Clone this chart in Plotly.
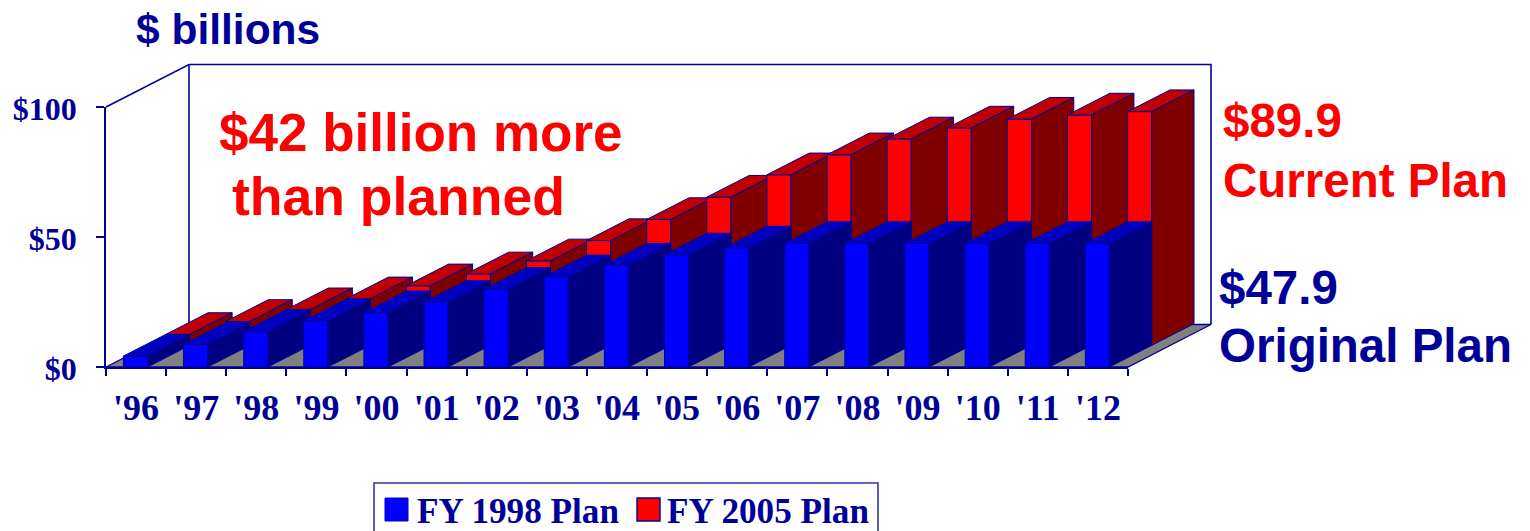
import plotly.graph_objects as go

# ---- data ($ billions) ----
years = ["'96","'97","'98","'99","'00","'01","'02","'03","'04","'05","'06","'07","'08","'09","'10","'11","'12"]
fy1998_plan = [4.2,8.7,13.6,17.7,20.9,24.9,29.9,34.7,39.2,43.1,45.8,47.5,47.5,47.5,47.5,47.5,47.5]
fy2005_plan = [4.2,9.2,13.7,17.9,22.9,27.5,32.5,40.3,48.4,57.0,65.6,73.3,79.4,83.6,87.0,88.6,89.9]
y_ticks = [0,50,100]
y_tick_text = ["$0","$50","$100"]

# ---- layout constants (pixels) ----
W,H = 1530,531
X0,X1 = 106,1128      # front x axis
Y0,Y100 = 367,107     # front y axis
DEPTH_PX = (83,-42.5)
NAVY = "#000099"
SERIF = "Liberation Serif"
SANS = "Liberation Sans"

px_x = (X1-X0)/len(years)
px_y = (Y0-Y100)/100
DX = DEPTH_PX[0]/px_x
DY = -DEPTH_PX[1]/px_y

def proj(cat,z,val):
    return cat+z*DX, val+z*DY

def face(pts,fill,edge="#000080",w=1):
    xs,ys = zip(*[proj(*p) for p in pts+[pts[0]]])
    return go.Scatter(x=list(xs),y=list(ys),mode="lines",fill="toself",fillcolor=fill,
                      line=dict(color=edge,width=w),hoverinfo="skip",showlegend=False)

def wire(pts,w=1.6):
    xs,ys = zip(*[proj(*p) for p in pts])
    return go.Scatter(x=list(xs),y=list(ys),mode="lines",line=dict(color=NAVY,width=w),
                      hoverinfo="skip",showlegend=False)

def box(i,val,z0,z1,front,top,side,edge):
    a,b = i+0.29,i+0.69
    return [
        face([(a,z0,0),(b,z0,0),(b,z0,val),(a,z0,val)],front,edge),
        face([(a,z0,val),(b,z0,val),(b,z1,val),(a,z1,val)],top,edge),
        face([(b,z0,0),(b,z1,0),(b,z1,val),(b,z0,val)],side,edge),
    ]

n = len(years)
fig = go.Figure()
# floor and walls
fig.add_trace(face([(0,0,0),(n,0,0),(n,1,0),(0,1,0)],"#808080",NAVY,1.4))
fig.add_trace(wire([(0,0,100),(0,1,100),(n,1,100),(n,1,0)]))
fig.add_trace(wire([(0,1,100),(0,1,0)]))
# rear series then front series, left to right
for i,v in enumerate(fy2005_plan):
    fig.add_traces(box(i,v,0.51,1.02,"#FF0000","#C00000","#800000",NAVY))
for i,v in enumerate(fy1998_plan):
    fig.add_traces(box(i,v,0.0,0.51,"#0000FF","#0000C0","#000080","#0000A0"))

# front axes: real axes on a second subplot laid over the first
fig.add_trace(go.Scatter(x=[0],y=[0],xaxis="x2",yaxis="y2",mode="markers",
                         marker=dict(opacity=0,size=1),hoverinfo="skip",showlegend=False))

fig.update_layout(
    width=W,height=H,margin=dict(l=0,r=0,t=0,b=0,pad=0),autosize=False,
    paper_bgcolor="white",plot_bgcolor="rgba(0,0,0,0)",showlegend=False,
    xaxis=dict(range=[-X0/px_x,(W-X0)/px_x],domain=[0,1],visible=False,fixedrange=True),
    yaxis=dict(range=[-(H-Y0)/px_y,Y0/px_y],domain=[0,1],visible=False,fixedrange=True),
    xaxis2=dict(range=[0,n],domain=[X0/W,X1/W],anchor="y2",showgrid=False,zeroline=False,
                automargin=False,fixedrange=True,
                showline=True,linecolor=NAVY,linewidth=2,ticks="",
                tickmode="array",tickvals=[i+0.5 for i in range(n)],ticktext=years,
                minor=dict(tickmode="array",tickvals=list(range(n+1)),ticks="outside",ticklen=7,tickwidth=1.5,tickcolor=NAVY,showgrid=False),
                ticklabelstandoff=8,
                tickfont=dict(family=SERIF,size=36,color=NAVY,weight="bold")),
    yaxis2=dict(range=[0,100],domain=[1-Y0/H,1-Y100/H],anchor="x2",showgrid=False,zeroline=False,
                automargin=False,fixedrange=True,
                showline=True,linecolor=NAVY,linewidth=1.6,ticks="outside",ticklen=8,tickwidth=1.5,tickcolor=NAVY,
                tickmode="array",tickvals=y_ticks,ticktext=y_tick_text,
                ticklabelstandoff=13,ticklabelshift=2,
                tickfont=dict(family=SERIF,size=32,color=NAVY,weight="bold")),
)

def label(x,y,text,color,size,family=SANS,anchor="left"):
    fig.add_annotation(xref="paper",yref="paper",x=x/W,y=1-y/H,text=text,showarrow=False,xanchor=anchor,yanchor="middle",
                       font=dict(family=family,size=size,color=color,weight="bold"),align="center",
                       borderpad=0)

label(135,29,"$ billions",NAVY,42.5)
label(218,133,"$42 billion more","#FF0000",53)
label(231,196,"than planned","#FF0000",53.5)
label(1222,121,"$89.9","#FF0000",47.5)
label(1222,180,"Current Plan","#FF0000",47.5)
label(1218,287,"$47.9",NAVY,47.5)
label(1218,345,"Original Plan",NAVY,47.5)

# legend
def rect(x0,y0,x1,y1,fill,line,w):
    fig.add_shape(type="rect",xref="paper",yref="paper",x0=x0/W,x1=x1/W,y0=1-y0/H,y1=1-y1/H,
                  fillcolor=fill,line=dict(color=line,width=w))
rect(374,483,878,535,"white","#3333AA",1.6)
rect(385,498,408,521,"#0000FF","#0000CC",1)
rect(637,498,660,521,"#FF0000",NAVY,1.4)
label(416,511,"FY 1998 Plan",NAVY,35.2,SERIF)
label(666,511,"FY 2005 Plan",NAVY,35.2,SERIF)

fig.write_html("out.html",config=dict(displayModeBar=False),
               post_script="document.body.style.margin='0';document.body.style.overflow='hidden';")
